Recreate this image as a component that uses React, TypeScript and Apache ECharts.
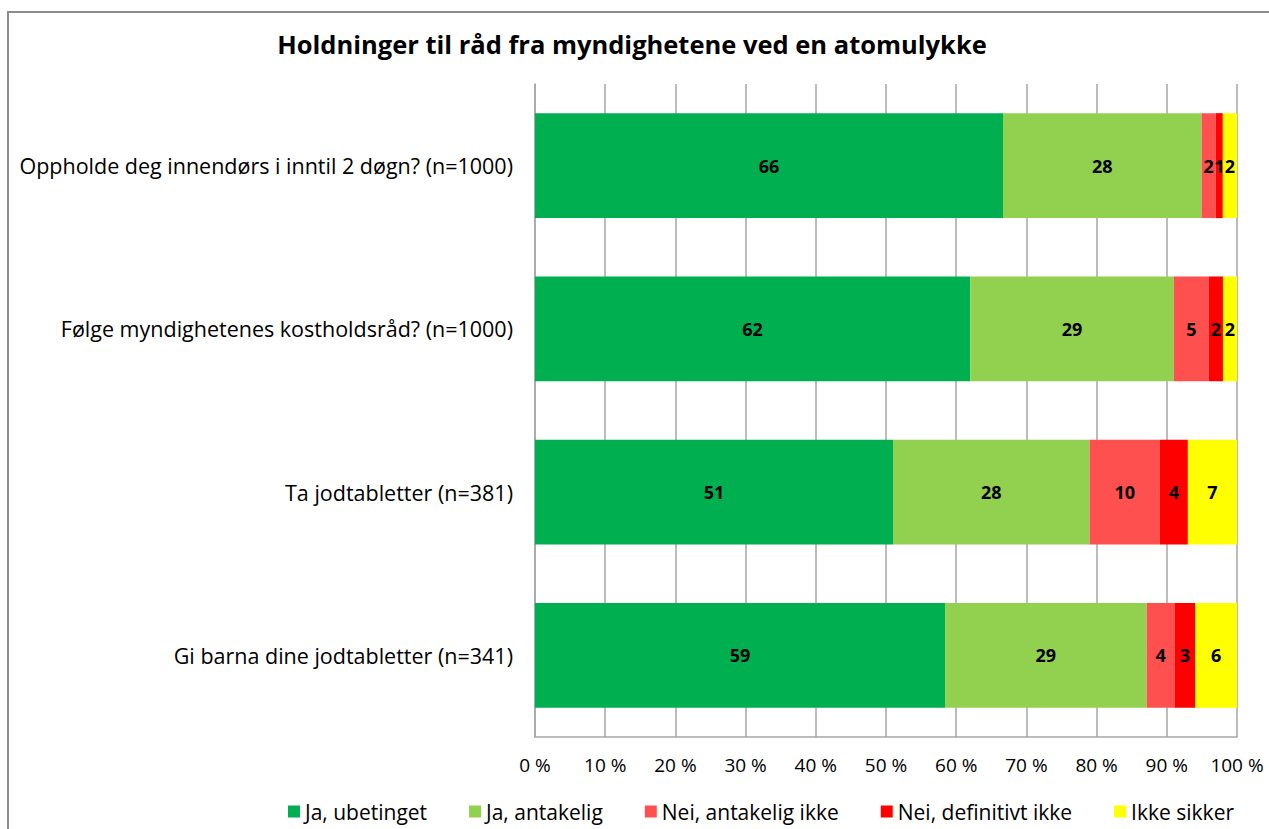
import React, { useEffect, useRef } from "react";
import * as echarts from "echarts";

const categories = [
  "Oppholde deg innendørs i inntil 2 døgn? (n=1000)",
  "Følge myndighetenes kostholdsråd? (n=1000)",
  "Ta jodtabletter (n=381)",
  "Gi barna dine jodtabletter (n=341)",
];
const seriesNames = [
  "Ja, ubetinget",
  "Ja, antakelig",
  "Nei, antakelig ikke",
  "Nei, definitivt ikke",
  "Ikke sikker",
];
const jaUbetinget = [66, 62, 51, 59];
const jaAntakelig = [28, 29, 28, 29];
const neiAntakeligIkke = [2, 5, 10, 4];
const neiDefinitivtIkke = [1, 2, 4, 3];
const ikkeSikker = [2, 2, 7, 6];
const tickLabels = ["0 %", "10 %", "20 %", "30 %", "40 %", "50 %", "60 %", "70 %", "80 %", "90 %", "100 %"];
const colors = ["#00B050", "#92D050", "#FF5050", "#FF0000", "#FFFF00"];

const FONT = "'Open Sans', 'Noto Sans', sans-serif";

export default function App() {
  const ref = useRef<HTMLDivElement>(null);
  useEffect(() => {
    if (!ref.current) return;
    const chart = echarts.init(ref.current, null, { renderer: "svg" });
    const all = [jaUbetinget, jaAntakelig, neiAntakeligIkke, neiDefinitivtIkke, ikkeSikker];
    const totals = categories.map((_, j) => all.reduce((s, arr) => s + arr[j], 0));
    const series = all.map((arr, i) => ({
      name: seriesNames[i],
      type: "bar",
      stack: "total",
      barCategoryGap: "35.7%",
      itemStyle: { color: colors[i] },
      label: {
        show: true,
        position: "inside",
        color: "#000",
        fontFamily: FONT,
        fontWeight: "bold",
        fontSize: 18,
        formatter: (p: any) => String(p.data.raw),
      },
      data: arr.map((v, j) => ({ value: (v / totals[j]) * 100, raw: v })),
    }));
    chart.setOption({
      animation: false,
      textStyle: { fontFamily: FONT },
      title: {
        text: "Holdninger til råd fra myndighetene ved en atomulykke",
        left: 627,
        textAlign: "center",
        top: 26,
        textStyle: { fontFamily: FONT, fontSize: 25.5, fontWeight: "bold", color: "#000" },
      },
      graphic: [
        {
          type: "rect",
          shape: { x: 8, y: 12, width: 1300, height: 900 },
          style: { fill: "none", stroke: "#8c8c8c", lineWidth: 2 },
          silent: true,
        },
      ],
      legend: {
        left: 283,
        top: 796,
        itemWidth: 12,
        itemHeight: 12,
        itemGap: 42,
        icon: "rect",
        textStyle: { fontFamily: FONT, fontSize: 21, color: "#000" },
        data: seriesNames,
      },
      grid: { left: 535, right: 32, top: 84, bottom: 92 },
      xAxis: {
        type: "value",
        min: 0,
        max: 100,
        interval: 10,
        axisLine: { show: true, lineStyle: { color: "#a6a6a6", width: 1.5 } },
        axisTick: { show: false },
        axisLabel: {
          fontFamily: FONT,
          fontSize: 19,
          color: "#000",
          margin: 18,
          formatter: (v: number) => tickLabels[Math.round(v / 10)],
        },
        splitLine: { show: true, lineStyle: { color: "#a6a6a6", width: 1.5 } },
      },
      yAxis: {
        type: "category",
        data: categories,
        inverse: true,
        axisLine: { show: true, lineStyle: { color: "#a6a6a6", width: 1.5 } },
        axisTick: { show: false },
        axisLabel: { fontFamily: FONT, fontSize: 21.5, color: "#000", margin: 22 },
      },
      series,
    });
    return () => chart.dispose();
  }, []);
  return <div ref={ref} style={{ width: 1269, height: 829, position: "absolute", left: 0, top: 0 }} />;
}
